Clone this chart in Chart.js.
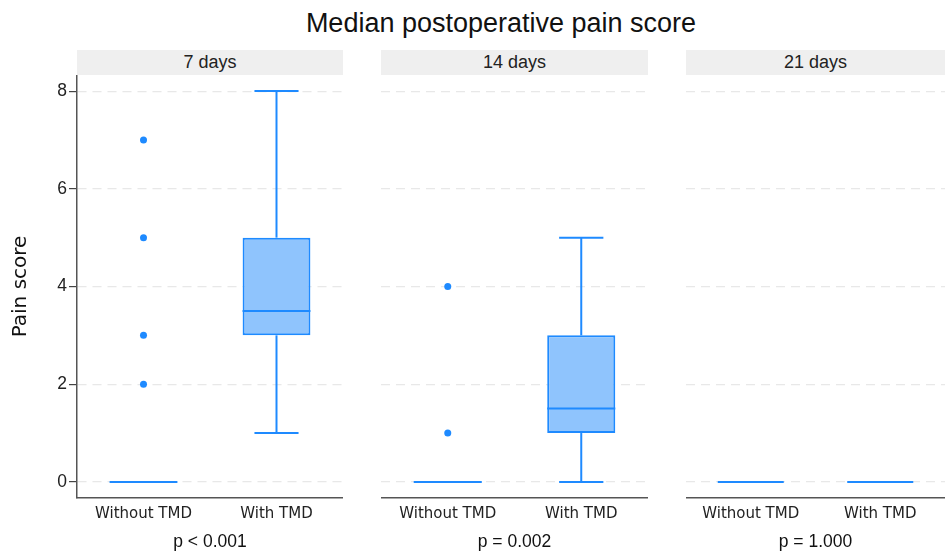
<!DOCTYPE html>
<html>
<head>
<meta charset="utf-8">
<script src="https://cdn.jsdelivr.net/npm/chart.js@4/dist/chart.umd.min.js"></script>
<style>
  html, body { margin: 0; padding: 0; background: #fff; }
  body { width: 945px; height: 551px; position: relative; overflow: hidden; font-family: "Liberation Sans", Arial, sans-serif; }
  canvas { position: absolute; }
  #title { position: absolute; left: 201px; width: 600px; top: 7px; text-align: center; font-size: 27px; color: #111; line-height: 32px; }
  .strip { position: absolute; top: 50px; height: 25px; background: #efefef; text-align: center; line-height: 25px; font-size: 18px; color: #222; }
</style>
</head>
<body>
<div id="title">Median postoperative pain score</div>

<script>
// ---- data ----
const chartTitle = 'Median postoperative pain score';
const yTitle = 'Pain score';
const panels = ['7 days', '14 days', '21 days'];
const categories = ['Without TMD', 'With TMD'];
const pValues = ['p < 0.001', 'p = 0.002', 'p = 1.000'];
const yTicks = [0, 2, 4, 6, 8];

const whiskerLow  = [[0, 1], [0, 0], [0, 0]];
const q1          = [[0, 3], [0, 1], [0, 0]];
const median      = [[0, 3.5], [0, 1.5], [0, 0]];
const q3          = [[0, 5], [0, 3], [0, 0]];
const whiskerHigh = [[0, 8], [0, 5], [0, 0]];
const outliers    = [[[2, 3, 5, 7], []], [[1, 4], []], [[], []]];

// ---- layout / style ----
const panelLeft  = [77, 381, 686];
const panelRight = [343, 648, 945];
const plotTop = 75, plotBottom = 498, H = 551;
const stroke = 'rgb(30,138,255)';
const fill = 'rgb(143,196,253)';

const boxPlugin = {
  id: 'boxWhiskers',
  afterDatasetsDraw(chart, args, opts) {
    const i = opts.panel;
    const { ctx, scales: { y } } = chart;
    const meta = chart.getDatasetMeta(0);
    ctx.save();
    ctx.strokeStyle = stroke;
    ctx.lineWidth = 2;
    ctx.lineCap = 'butt';
    const line = (x1, y1, x2, y2) => { ctx.beginPath(); ctx.moveTo(x1, y1); ctx.lineTo(x2, y2); ctx.stroke(); };
    categories.forEach((c, j) => {
      const bar = meta.data[j];
      const cx = bar.x, w = bar.width, cw = w * 0.65;
      if (whiskerHigh[i][j] > q3[i][j]) {
        line(cx, y.getPixelForValue(q3[i][j]), cx, y.getPixelForValue(whiskerHigh[i][j]));
        line(cx - cw / 2, y.getPixelForValue(whiskerHigh[i][j]), cx + cw / 2, y.getPixelForValue(whiskerHigh[i][j]));
      }
      if (whiskerLow[i][j] < q1[i][j]) {
        line(cx, y.getPixelForValue(q1[i][j]), cx, y.getPixelForValue(whiskerLow[i][j]));
        line(cx - cw / 2, y.getPixelForValue(whiskerLow[i][j]), cx + cw / 2, y.getPixelForValue(whiskerLow[i][j]));
      }
      const my = y.getPixelForValue(median[i][j]);
      line(cx - w / 2, my, cx + w / 2, my);
    });
    ctx.restore();
  }
};

const noPad = s => { s.paddingTop = 0; s.paddingBottom = 0; s.paddingLeft = 0; s.paddingRight = 0; };

panels.forEach((p, i) => {
  const strip = document.createElement('div');
  strip.className = 'strip';
  strip.style.left = panelLeft[i] + 'px';
  strip.style.width = (panelRight[i] - panelLeft[i]) + 'px';
  strip.textContent = p;
  document.body.appendChild(strip);

  const cv = document.createElement('canvas');
  const left = i === 0 ? 0 : panelLeft[i];
  const width = panelRight[i] - left;
  cv.width = width; cv.height = H - plotTop;
  cv.style.left = left + 'px'; cv.style.top = plotTop + 'px';
  cv.style.width = width + 'px'; cv.style.height = (H - plotTop) + 'px';
  document.body.appendChild(cv);

  const pts = [];
  categories.forEach((c, j) => outliers[i][j].forEach(v => pts.push({ x: c, y: v })));

  new Chart(cv, {
    type: 'bar',
    data: {
      labels: categories,
      datasets: [
        {
          type: 'bar',
          data: categories.map((c, j) => [q1[i][j], q3[i][j]]),
          backgroundColor: fill,
          borderColor: stroke,
          borderWidth: 2,
          borderSkipped: false,
          barPercentage: 0.51,
          categoryPercentage: 1,
          order: 2
        },
        {
          type: 'scatter',
          data: pts,
          pointRadius: 3.5,
          pointHoverRadius: 3.5,
          backgroundColor: stroke,
          borderWidth: 0,
          order: 1
        }
      ]
    },
    options: {
      responsive: false,
      animation: false,
      devicePixelRatio: 1,
      layout: { padding: 0, autoPadding: false },
      plugins: {
        legend: { display: false },
        tooltip: { enabled: false },
        boxWhiskers: { panel: i }
      },
      scales: {
        x: {
          type: 'category',
          offset: true,
          grid: { display: false, drawTicks: false },
          border: { display: true, color: '#555', width: 1.5 },
          ticks: { color: '#222', padding: 7, maxRotation: 0, autoSkip: false, font: { family: 'DejaVu Sans', size: 15 } },
          title: { display: true, text: pValues[i], color: '#111', padding: { top: 0, bottom: -2 }, font: { family: 'Liberation Sans', size: 17.5 } },
          afterFit: s => { s.height = H - plotBottom; noPad(s); }
        },
        y: {
          min: -0.33, max: 8.33,
          afterBuildTicks: s => { s.ticks = yTicks.map(v => ({ value: v })); },
          grid: { color: '#e8e8e8', lineWidth: 1.2, drawTicks: i === 0, tickLength: 8, tickColor: '#444', tickWidth: 1.2, tickBorderDash: [] },
          border: { display: i === 0, color: '#555', width: 1.5, dash: [9, 6] },
          ticks: { display: i === 0, padding: 2, color: '#222', font: { family: 'Liberation Sans', size: 17.5 } },
          title: { display: i === 0, text: yTitle, color: '#111', padding: { top: 9, bottom: 0 }, font: { family: 'DejaVu Sans', size: 20 } },
          afterFit: s => { s.width = i === 0 ? panelLeft[0] : 0; noPad(s); }
        }
      }
    },
    plugins: [boxPlugin]
  });
});
</script>
</body>
</html>
